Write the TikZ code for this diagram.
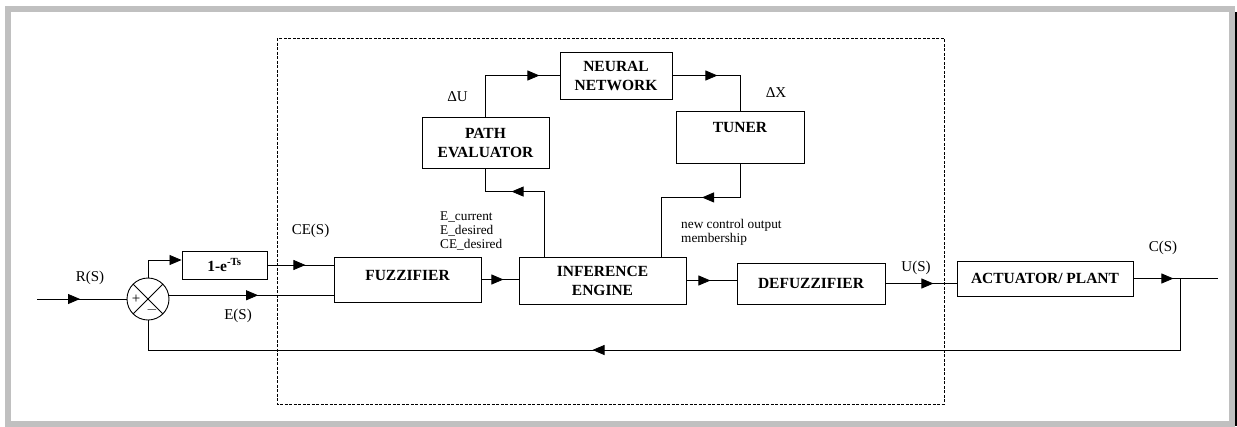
\documentclass[tikz,border=0pt]{standalone}
\usepackage{fontspec}
\setmainfont{Liberation Serif}
\usetikzlibrary{arrows.meta,calc,decorations.markings}
\definecolor{framegray}{HTML}{C0C0C0}

\begin{document}
\begin{tikzpicture}[x=1pt,y=-1pt,>={Triangle[length=12pt,width=10pt]},
  wire/.style={line width=0.8pt},
  blk/.style 2 args={draw,line width=0.9pt,align=center,inner sep=0pt,minimum width=#1pt,minimum height=#2pt,font=\fontsize{15.5}{19}\selectfont\bfseries},
  sumj/.style={circle,draw,line width=0.9pt,minimum size=42pt,inner sep=0pt,
    path picture={\draw[line width=0.8pt] (path picture bounding box.north west) -- (path picture bounding box.south east)
      (path picture bounding box.north east) -- (path picture bounding box.south west);}},
  lbl/.style={font=\fontsize{15}{18}\selectfont,inner sep=0pt},
  sign/.style={font=\fontsize{15}{16}\selectfont,inner sep=0pt},
  note/.style={font=\fontsize{13.3}{14}\selectfont,inner sep=0pt,align=left,anchor=west},
  midarr/.style={postaction={decorate,decoration={markings,mark=at position #1 with {\arrow{>}}}}}]
\useasboundingbox (0,0) rectangle (1237,426);
% frame
\draw[framegray,line width=6pt] (8,9) rectangle (1232,423.5);
\draw[line width=2pt] (1236,12) -- (1236,426);
\draw[dash pattern=on 3pt off 1.5pt,line width=0.8pt] (277,38) rectangle (944,404);
% forward path
\coordinate (in) at (37,299);
\node[sumj] (sum) at (148,299) {};
\node[sign] (plus) at (136,299) {+};
\node[sign] (minus) at (152,310) {$-$};
\node[blk={85}{28}] (delay) at (224.5,265) {1-e\textsuperscript{-Ts}};
\node[blk={147}{45},text height=23pt,text depth=22pt] (fuzz) at (407.5,279.5) {FUZZIFIER};
\node[blk={167}{47}] (infer) at (602.5,280.5) {INFERENCE\\ENGINE};
\node[blk={148}{41}] (defuzz) at (811,283.5) {DEFUZZIFIER};
\node[blk={176}{35}] (plant) at (1045,278.5) {ACTUATOR/ PLANT};
\coordinate (out) at (1218,278.5);
\coordinate (fbk) at (1180,278.5);
% tuning loop
\node[blk={127}{51}] (path) at (485.5,142.5) {PATH\\EVALUATOR};
\node[blk={112}{47}] (nn) at (616,75.5) {NEURAL\\NETWORK};
\node[blk={128}{52},text height=21pt,text depth=31pt] (tuner) at (740,137) {TUNER};
% labels
\node[lbl] (rs) at (90,278) {R(S)};
\node[lbl] (es) at (238,316) {E(S)};
\node[lbl] (ces) at (310.5,231) {CE(S)};
\node[lbl] (us) at (916,268) {U(S)};
\node[lbl] (cs) at (1163,248) {C(S)};
\node[lbl] (du) at (457.5,97) {ΔU};
\node[lbl] (dx) at (776,93) {ΔX};
\node[note] (evals) at (440,231) {E\_current\\E\_desired\\CE\_desired};
\node[note] (memb) at (681,232) {new control output\\membership};
% connectors
\draw[wire,midarr=43pt] (in) -- (sum.west);
\draw[wire,->] (sum.north) |- ($(delay.west)+(0,-5)$);
\draw[wire,midarr=38pt] (delay.east) -- (delay.east -| fuzz.west);
\draw[wire,midarr=89pt] (sum.10) -- (sum.10 -| fuzz.west);
\draw[wire,midarr=22pt] (fuzz.east) -- (fuzz.east -| infer.west);
\draw[wire,midarr=24pt] (infer.east) -- (infer.east -| defuzz.west);
\draw[wire,midarr=48pt] (defuzz.east) -- (defuzz.east -| plant.west);
\draw[wire,midarr=40pt] (plant.east) -- (out);
\draw[wire,midarr=659pt] (fbk) -- ++(0,71.5) -| (sum.south);
\draw[wire,midarr=95pt] (path.north) |- (nn.west);
\draw[wire,midarr=45pt] (nn.east) -| (tuner.north);
\draw[wire,midarr=98pt] ($(infer.north west)+(26,0)$) -- ++(0,-65) -| (path.south);
\draw[wire,midarr=72pt] (tuner.south) -- ++(0,34) -| ($(infer.north west)+(143,0)$);
\end{tikzpicture}
\end{document}
